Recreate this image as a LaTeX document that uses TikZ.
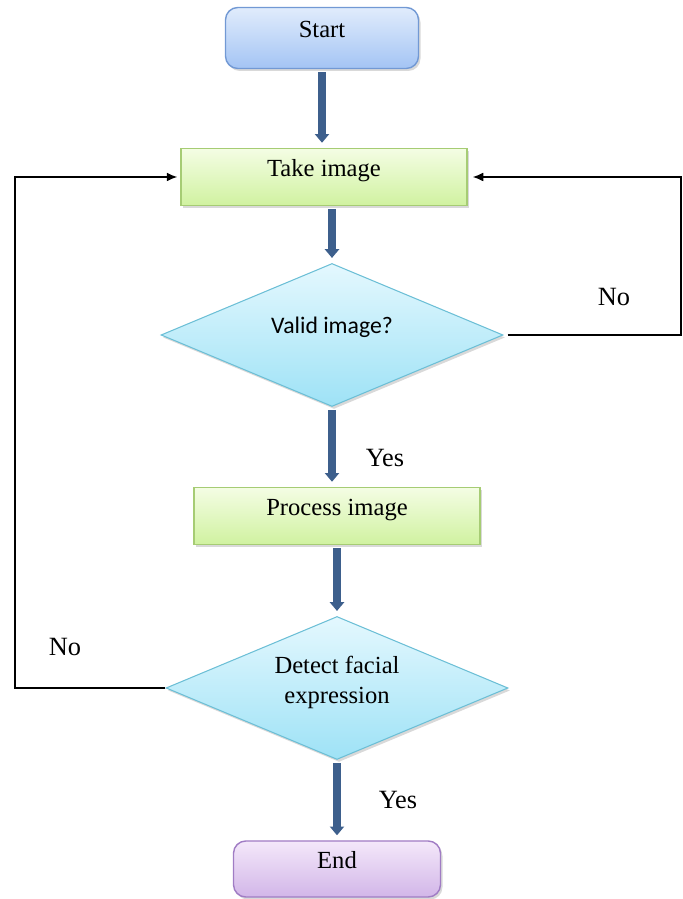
\documentclass[tikz,border=0pt]{standalone}
\usepackage{fontspec}
\setmainfont{Liberation Serif}
\newfontfamily\calibri{Carlito}
\usepackage{tikz}
\usetikzlibrary{positioning, arrows.meta, shapes.geometric, shadows}
\definecolor{flowArrow}{HTML}{3D5F8C}
\definecolor{blueTop}{HTML}{E0ECFC}
\definecolor{blueBot}{HTML}{A4C4F4}
\definecolor{blueLine}{HTML}{7299D4}
\definecolor{greenTop}{HTML}{F4FDE4}
\definecolor{greenBot}{HTML}{D0F2A0}
\definecolor{greenLine}{HTML}{A6CC74}
\definecolor{cyanTop}{HTML}{E4F8FE}
\definecolor{cyanBot}{HTML}{9EE2F6}
\definecolor{cyanLine}{HTML}{6CBFD6}
\definecolor{lilacTop}{HTML}{F4E8FA}
\definecolor{lilacBot}{HTML}{D2B6E8}
\definecolor{lilacLine}{HTML}{A07CC4}
\tikzset{
  every node/.style={font=\fontsize{14}{17}\selectfont},
  shade/.style={drop shadow={shadow xshift=0.04cm, shadow yshift=-0.05cm, opacity=0.3}},
  term/.style={draw, rounded corners=7pt, line width=0.8pt, align=center, shade,
               text height=0.3cm, text depth=0.3cm},
  termBlue/.style={term, top color=blueTop, bottom color=blueBot, draw=blueLine},
  termLilac/.style={term, top color=lilacTop, bottom color=lilacBot, draw=lilacLine},
  proc/.style={draw, line width=0.8pt, align=center, minimum width=5.72cm, minimum height=1.14cm,
               text height=0.3cm, text depth=0.3cm,
               top color=greenTop, bottom color=greenBot, draw=greenLine, shade},
  decide/.style={diamond, aspect=2.4, draw, line width=0.6pt, inner sep=0pt, align=center,
                 minimum width=6.84cm, minimum height=2.86cm,
                 top color=cyanTop, bottom color=cyanBot, draw=cyanLine, shade},
  flow/.style={-{Triangle[width=8pt, length=5pt]}, line width=4.3pt, flowArrow,
               shorten <=0.06cm, shorten >=0.1cm},
  back/.style={-{Latex[width=5pt, length=6pt]}, line width=0.7pt, black},
  lbl/.style={font=\fontsize{15}{18}\selectfont},
}

\begin{document}
\begin{tikzpicture}
  \useasboundingbox (0,0) rectangle (13.64,17.98);
  % boxes, top to bottom
  \node[termBlue, minimum width=3.86cm, minimum height=1.22cm] (start) at (6.44,17.22) {Start};
  \node[proc] (take) at (6.48,14.44) {Take image};
  \node[decide] (valid) at (6.64,11.28) {\fontsize{13.5}{15}\calibri Valid image?\\[-0.2cm]};
  \node[proc] (process) at (6.74,7.66) {Process image};
  \node[decide] (detect) at (6.74,4.22) {Detect facial\\expression\\[-0.28cm]};
  \node[termLilac, minimum width=4.14cm, minimum height=1.12cm] (end) at (6.74,0.6) {End};
  % main flow
  \draw[flow] (start.south) -- (start.south |- take.north);
  \draw[flow] (valid.north |- take.south) -- (valid.north);
  \draw[flow] (valid.south) -- (valid.south |- process.north);
  \draw[flow] (process.south) -- (detect.north);
  \draw[flow] (detect.south) -- (end.north);
  % loops back
  \coordinate (rside) at (13.62,11.28);
  \coordinate (lside) at (0.3,4.22);
  \draw[back, shorten <=0.08cm, shorten >=0.1cm] (valid.east) -- (rside) |- (take.east);
  \draw[back, shorten >=0.06cm] (detect.west) -- (lside) |- (take.west);
  % labels
  \node[lbl] (noR) at (12.28,12.04) {No};
  \node[lbl] (yesA) at (7.7,8.82) {Yes};
  \node[lbl] (noL) at (1.3,5.04) {No};
  \node[lbl] (yesB) at (7.96,1.98) {Yes};
\end{tikzpicture}
\end{document}
